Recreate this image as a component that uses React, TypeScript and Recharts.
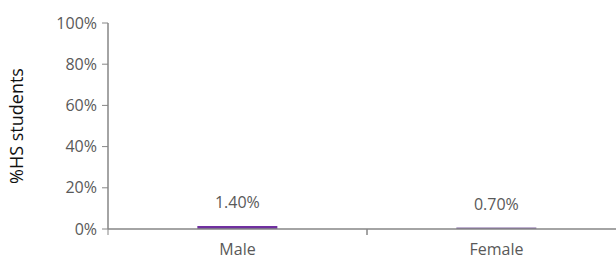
import React from 'react';
import { BarChart, Bar, XAxis, YAxis, LabelList, Cell } from 'recharts';

const categories = ['Male', 'Female'];
const shares = [0.014, 0.007];
const yTicks = [0, 0.2, 0.4, 0.6, 0.8, 1];
const barColors = ['#7030A0', '#8064A2'];

const data = categories.map((name, i) => ({ name, share: shares[i] }));

const FONT = '"Open Sans", sans-serif';
const TEXT = '#595959';
const AXIS = '#868686';
const X_TICK_SIZE = 6;
const X_TICK_MARGIN = 5;

const pct = (v: number) => `${Math.round(v * 100)}%`;
const pct2 = (v: any) => `${(Number(v) * 100).toFixed(2)}%`;

// label plus an Excel-style tick mark on the edges of each category band
const CategoryTick = (props: any) => {
  const { x, y, payload, width, visibleTicksCount } = props;
  const band = width / visibleTicksCount;
  const left = x - band / 2;
  const axisY = y - X_TICK_SIZE - X_TICK_MARGIN;
  return (
    <g>
      <line x1={left} x2={left} y1={axisY} y2={axisY + X_TICK_SIZE} stroke={AXIS} strokeWidth={1} />
      <line x1={left + band} x2={left + band} y1={axisY} y2={axisY + X_TICK_SIZE} stroke={AXIS} strokeWidth={1} />
      <text x={x} y={y} dy="0.95em" textAnchor="middle" fill={TEXT} fontSize={16} fontFamily={FONT}>
        {payload.value}
      </text>
    </g>
  );
};

export default function App() {
  return (
    <div style={{ position: 'absolute', left: 0, top: 0, width: 616, height: 263, overflow: 'hidden', background: '#fff' }}>
      <BarChart
        width={626}
        height={263}
        data={data}
        margin={{ top: 23, right: 0, bottom: 4, left: 0 }}
        barCategoryGap="34.5%"
        style={{ fontFamily: FONT }}
      >
        <XAxis
          dataKey="name"
          height={30}
          axisLine={{ stroke: AXIS, strokeWidth: 1.5 }}
          tickLine={false}
          tickSize={X_TICK_SIZE}
          tickMargin={X_TICK_MARGIN}
          tick={<CategoryTick />}
        />
        <YAxis
          width={108}
          domain={[0, 1]}
          ticks={yTicks}
          tickFormatter={pct}
          axisLine={{ stroke: AXIS, strokeWidth: 1.5 }}
          tickLine={{ stroke: AXIS, strokeWidth: 1 }}
          tickSize={6}
          tickMargin={5}
          tick={{ fill: TEXT, fontSize: 16 }}
          label={{ value: '%HS students', angle: -90, position: 'insideLeft', dx: 12, fill: '#111', fontSize: 18, style: { textAnchor: 'middle' } }}
        />
        <Bar dataKey="share" isAnimationActive={false}>
          {data.map((d, i) => (
            <Cell key={d.name} fill={barColors[i]} />
          ))}
          <LabelList dataKey="share" position="top" offset={18} formatter={pct2} fill={TEXT} fontSize={16} />
        </Bar>
      </BarChart>
    </div>
  );
}
